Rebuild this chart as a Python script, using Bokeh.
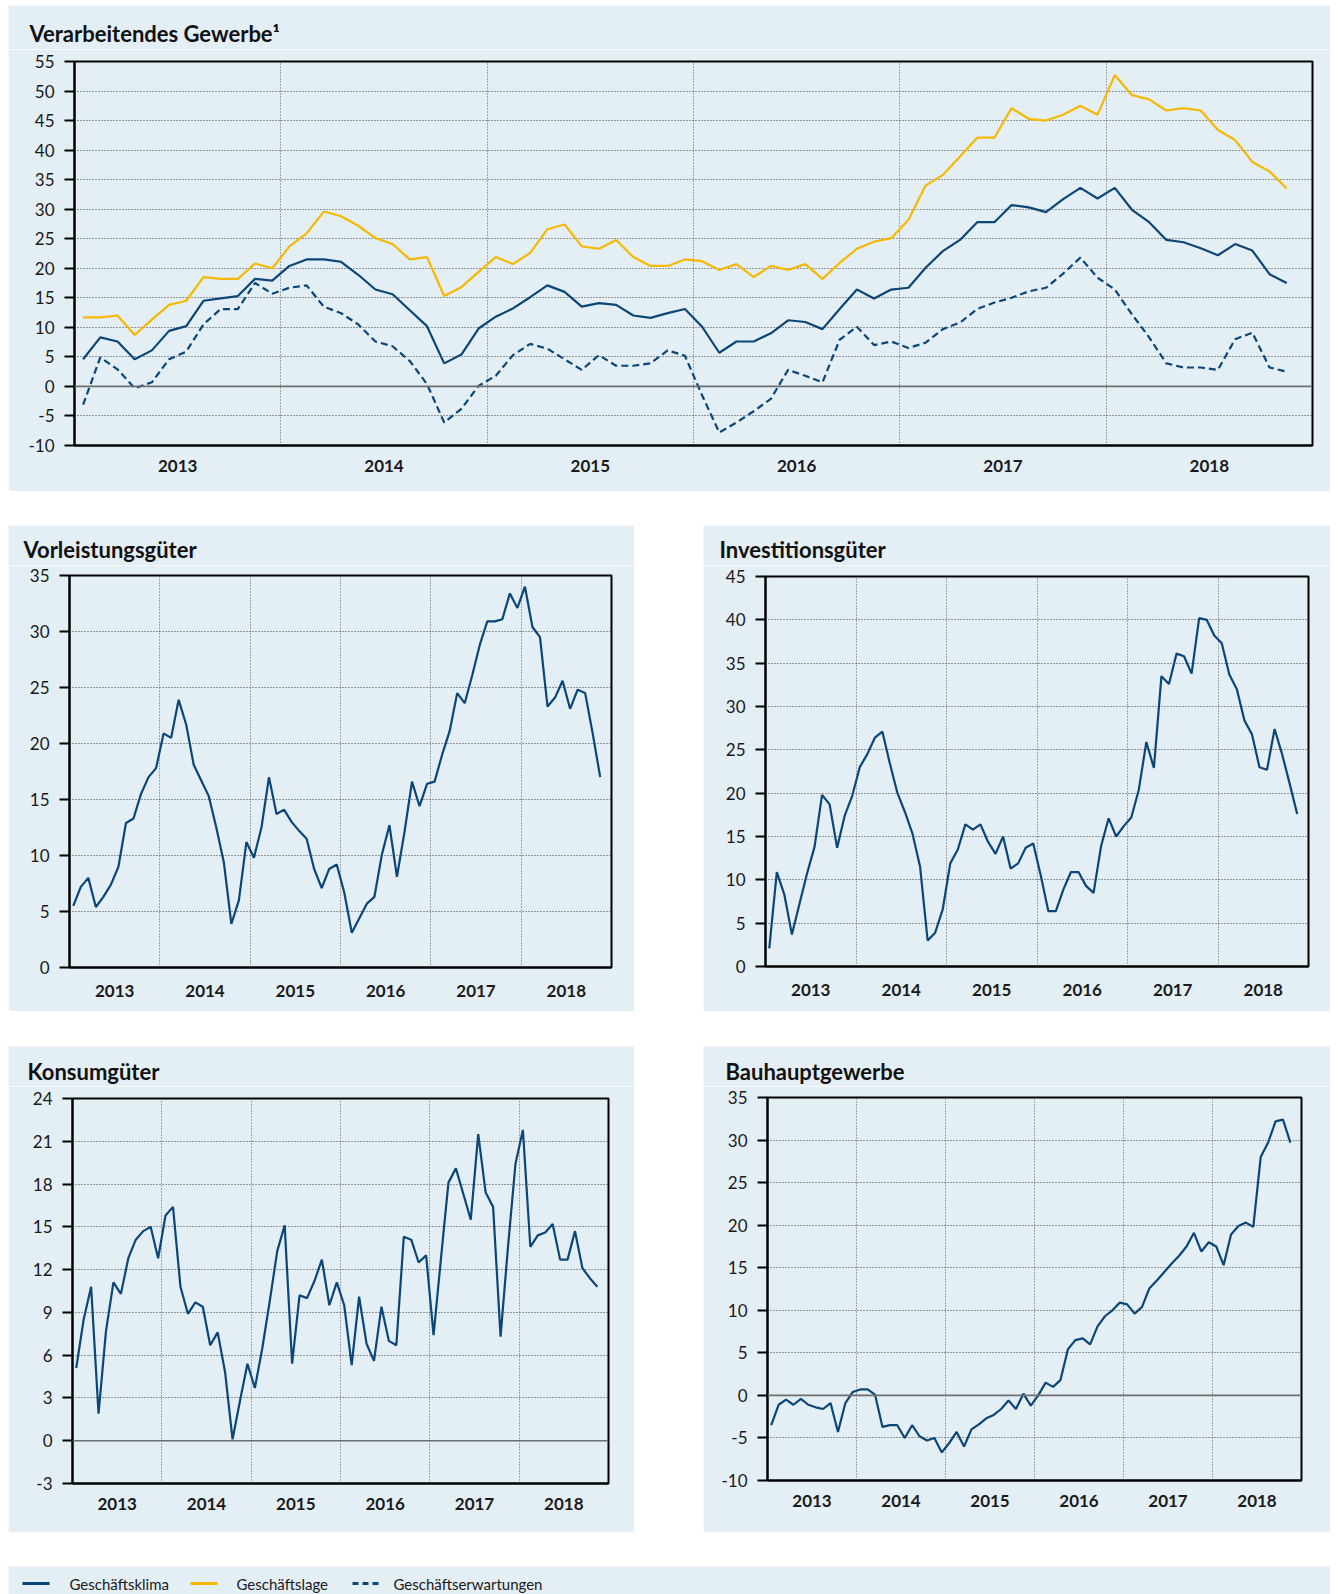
import numpy as np
import pandas as pd
from bokeh.plotting import figure
from bokeh.layouts import column, row
from bokeh.models import (Range1d, FixedTicker, CustomJSTickFormatter, Span,
                          Label, Spacer)
from bokeh.embed import file_html
from bokeh.resources import INLINE

# ---------------- data (monthly, Jan 2013 - Nov 2018) ----------------
years = [2013, 2014, 2015, 2016, 2017, 2018]
legend_labels = ["Geschäftsklima", "Geschäftslage", "Geschäftserwartungen"]
titles = ["Verarbeitendes Gewerbe\u00b9", "Vorleistungsgüter", "Investitionsgüter",
          "Konsumgüter", "Bauhauptgewerbe"]

vg_klima = [4.6, 8.3, 7.6, 4.6, 6.1, 9.4, 10.2, 14.5, 14.9, 15.3, 18.2, 17.9,
            20.4, 21.5, 21.5, 21.1, 18.9, 16.4, 15.6, 12.9, 10.2, 3.9, 5.4, 9.8,
            11.8, 13.2, 15.1, 17.1, 16.0, 13.5, 14.1, 13.8, 12.0, 11.6, 12.4, 13.1,
            10.1, 5.7, 7.6, 7.6, 9.0, 11.2, 10.9, 9.7, 13.1, 16.4, 14.9, 16.4,
            16.7, 20.1, 22.9, 24.8, 27.8, 27.8, 30.7, 30.3, 29.5, 31.7, 33.6, 31.8,
            33.6, 29.9, 27.8, 24.8, 24.4, 23.4, 22.2, 24.1, 23.0, 19.0, 17.5]
vg_lage = [11.7, 11.7, 12.0, 8.7, 11.3, 13.8, 14.5, 18.5, 18.2, 18.2, 20.8, 20.0,
           23.7, 25.9, 29.6, 28.8, 27.2, 25.1, 24.1, 21.5, 21.9, 15.3, 16.8, 19.4,
           21.9, 20.7, 22.6, 26.6, 27.4, 23.7, 23.3, 24.8, 21.9, 20.4, 20.4, 21.5,
           21.2, 19.7, 20.7, 18.5, 20.4, 19.7, 20.7, 18.2, 20.9, 23.3, 24.5, 25.1,
           28.2, 34.0, 35.8, 38.9, 42.1, 42.1, 47.1, 45.3, 45.0, 46.0, 47.5, 46.0,
           52.7, 49.3, 48.6, 46.7, 47.1, 46.7, 43.4, 41.7, 38.0, 36.4, 33.5]
vg_erw = [-3.1, 4.9, 2.9, -0.3, 0.7, 4.6, 5.9, 10.5, 13.1, 13.1, 17.5, 15.7,
          16.7, 17.1, 13.5, 12.4, 10.5, 7.6, 6.8, 4.3, 0.4, -6.1, -3.8, 0.1,
          1.8, 5.3, 7.2, 6.4, 4.6, 2.8, 5.3, 3.5, 3.5, 3.9, 6.1, 5.2,
          -1.5, -7.8, -6.1, -4.2, -2.1, 2.8, 1.8, 0.7, 7.9, 10.1, 7.0, 7.6,
          6.5, 7.4, 9.7, 10.8, 13.1, 14.2, 15.0, 16.1, 16.7, 19.1, 21.8, 18.4,
          16.4, 12.2, 8.3, 3.9, 3.2, 3.2, 2.8, 8.0, 9.1, 3.2, 2.5]
vorleistung = [5.5, 7.2, 8.0, 5.4, 6.3, 7.4, 9.0, 12.9, 13.3, 15.5, 17.0, 17.8,
               20.9, 20.5, 23.9, 21.7, 18.1, 16.7, 15.3, 12.5, 9.4, 3.9, 6.0, 11.2,
               9.8, 12.5, 17.0, 13.7, 14.1, 13.0, 12.2, 11.5, 8.8, 7.1, 8.8, 9.2,
               6.7, 3.1, 4.4, 5.7, 6.3, 10.1, 12.7, 8.1, 12.1, 16.6, 14.4, 16.4,
               16.6, 19.0, 21.1, 24.5, 23.6, 26.1, 28.8, 30.9, 30.9, 31.1, 33.4, 32.1,
               34.0, 30.4, 29.5, 23.3, 24.1, 25.6, 23.1, 24.8, 24.5, 20.9, 17.0]
investition = [2.1, 10.9, 8.3, 3.7, 7.2, 10.7, 13.8, 19.8, 18.7, 13.7, 17.4, 19.7,
               23.0, 24.5, 26.4, 27.1, 23.4, 20.0, 17.8, 15.3, 11.5, 3.0, 3.9, 6.6,
               11.9, 13.5, 16.4, 15.8, 16.4, 14.4, 13.0, 15.0, 11.3, 11.9, 13.7, 14.2,
               10.5, 6.4, 6.4, 8.9, 10.9, 10.9, 9.3, 8.5, 13.9, 17.1, 15.0, 16.2,
               17.2, 20.4, 25.9, 22.9, 33.5, 32.6, 36.1, 35.8, 33.8, 40.2, 40.0, 38.2,
               37.3, 33.7, 32.0, 28.4, 26.8, 23.0, 22.7, 27.4, 24.5, 21.1, 17.6]
konsum = [5.1, 8.5, 10.8, 1.9, 7.7, 11.1, 10.3, 12.8, 14.1, 14.7, 15.0, 12.8,
          15.8, 16.4, 10.8, 8.9, 9.7, 9.4, 6.7, 7.6, 4.8, 0.1, 2.8, 5.4,
          3.7, 6.5, 9.8, 13.3, 15.1, 5.4, 10.2, 10.0, 11.2, 12.7, 9.5, 11.1,
          9.5, 5.3, 10.1, 6.8, 5.6, 9.4, 7.0, 6.7, 14.3, 14.1, 12.5, 13.0,
          7.4, 12.8, 18.1, 19.1, 17.3, 15.5, 21.5, 17.4, 16.4, 7.3, 13.6, 19.4,
          21.8, 13.6, 14.4, 14.6, 15.2, 12.7, 12.7, 14.7, 12.1, 11.4, 10.8]
bau = [-3.5, -1.1, -0.5, -1.1, -0.4, -1.1, -1.4, -1.6, -0.9, -4.3, -0.9, 0.4,
       0.7, 0.7, 0.1, -3.7, -3.5, -3.5, -5.0, -3.5, -4.8, -5.3, -5.0, -6.7,
       -5.6, -4.3, -6.0, -4.0, -3.4, -2.7, -2.3, -1.6, -0.6, -1.6, 0.2, -1.2,
       0.0, 1.5, 1.0, 1.8, 5.4, 6.5, 6.7, 6.0, 8.1, 9.3, 10.0, 10.9,
       10.7, 9.6, 10.4, 12.6, 13.5, 14.5, 15.5, 16.4, 17.5, 19.1, 16.9, 18.0,
       17.5, 15.3, 18.9, 19.9, 20.3, 19.8, 28.0, 29.7, 32.2, 32.4, 29.7]

months = pd.date_range("2013-01-01", periods=len(vg_klima), freq="MS")
xm = (months.year + (months.month - 0.5) / 12.0).to_numpy()

# ---------------- styling ----------------
BG = "#e3eef5"
BLUE = "#0b4677"
YELLOW = "#f6b800"
FONT = "Lato"
LW = 2.2


def blank(width, height):
    s = figure(width=width, height=height, x_range=Range1d(0, width),
               y_range=Range1d(0, height), output_backend="svg",
               toolbar_location=None, min_border=0, min_border_left=0,
               min_border_right=0, min_border_top=0, min_border_bottom=0,
               background_fill_color=BG, border_fill_color=BG,
               outline_line_color=None, x_axis_location=None, y_axis_location=None)
    s.xgrid.visible = False
    s.ygrid.visible = False
    return s


def strip(width, height, text, tx, ty):
    s = blank(width, height)
    s.add_layout(Label(x=tx, y=ty, text=text, text_font=FONT, text_font_style="bold",
                       text_font_size="22px", text_color="#111111",
                       text_baseline="middle", text_align="left"))
    return s


def panel(width, height, borders, yrange, ystep, zero=True, xstand=14):
    bl, br, bt, bb = borders
    p = figure(width=width, height=height,
               x_range=Range1d(years[0], years[-1] + 1),
               y_range=Range1d(*yrange),
               output_backend="svg", toolbar_location=None,
               min_border_left=bl, min_border_right=br,
               min_border_top=bt, min_border_bottom=bb,
               background_fill_color=BG, border_fill_color=BG,
               outline_line_color="black", outline_line_width=2)
    yt = list(np.arange(yrange[0], yrange[1] + 0.001, ystep))
    ya = p.yaxis[0]
    ya.ticker = FixedTicker(ticks=yt)
    ya.formatter = CustomJSTickFormatter(code="return tick.toFixed(0);")
    ya.major_label_text_font = FONT
    ya.major_label_text_font_size = "17px"
    ya.major_label_text_color = "#1a1a1a"
    ya.major_tick_out = 10
    ya.major_tick_in = 0
    ya.major_tick_line_width = 2
    ya.major_tick_line_color = "black"
    ya.minor_tick_line_color = None
    ya.axis_line_width = 2
    ya.axis_line_color = "black"
    ya.major_label_standoff = 10
    xa = p.xaxis[0]
    xa.ticker = FixedTicker(ticks=[y + 0.5 for y in years])
    xa.formatter = CustomJSTickFormatter(code="return String(Math.floor(tick));")
    xa.major_label_text_font = FONT
    xa.major_label_text_font_style = "bold"
    xa.major_label_text_font_size = "17px"
    xa.major_label_text_color = "#1a1a1a"
    xa.major_tick_line_color = None
    xa.major_tick_out = 0
    xa.major_tick_in = 0
    xa.minor_tick_line_color = None
    xa.axis_line_width = 2
    xa.axis_line_color = "black"
    xa.major_label_standoff = xstand
    p.ygrid.ticker = FixedTicker(ticks=yt)
    p.ygrid.grid_line_color = "#3d3d3d"
    p.ygrid.grid_line_dash = "1 2"
    p.ygrid.grid_line_width = 1
    p.xgrid.ticker = FixedTicker(ticks=years[1:])
    p.xgrid.grid_line_color = "#5a5a5a"
    p.xgrid.grid_line_dash = "1 2"
    p.xgrid.grid_line_width = 1
    if zero:
        p.add_layout(Span(location=0, dimension="width", line_color="#6e6e6e",
                          line_width=1.6))
    return p


# top panel: Verarbeitendes Gewerbe
t0 = strip(1322, 44, titles[0], 21, 16)
top = panel(1322, 442, (66, 18, 12, 46), (-10, 55), 5)
top.line(xm, vg_erw, line_color=BLUE, line_width=LW, line_dash="7 4")
top.line(xm, vg_lage, line_color=YELLOW, line_width=LW)
top.line(xm, vg_klima, line_color=BLUE, line_width=LW)

t1 = strip(626, 40, titles[1], 15, 16)
p1 = panel(626, 446, (61, 23, 10, 44), (0, 35), 5, zero=False, xstand=17)
p1.line(xm, vorleistung, line_color=BLUE, line_width=LW)

t2 = strip(627, 40, titles[2], 16, 16)
p2 = panel(627, 446, (62, 22, 11, 45), (0, 45), 5, zero=False, xstand=17)
p2.line(xm, investition, line_color=BLUE, line_width=LW)

t3 = strip(626, 40, titles[3], 19, 15)
p3 = panel(626, 446, (64, 26, 12, 49), (-3, 24), 3)
p3.line(xm, konsum, line_color=BLUE, line_width=LW)

t4 = strip(627, 40, titles[4], 22, 15)
p4 = panel(627, 446, (64, 29, 11, 52), (-10, 35), 5)
p4.line(xm, bau, line_color=BLUE, line_width=LW)

# legend strip
leg = blank(1322, 28)
leg_x0 = [14, 182, 344]
leg_colors = [BLUE, YELLOW, BLUE]
leg_dash = ["solid", "solid", "6 4"]
for x0, c, d in zip(leg_x0, leg_colors, leg_dash):
    leg.segment(x0=[x0], y0=[11], x1=[x0 + 27], y1=[11], line_color=c,
                line_width=3, line_dash=d)
for x0, t in zip([61, 228, 385], legend_labels):
    leg.add_layout(Label(x=x0, y=11, text=t, text_font=FONT, text_font_size="15px",
                         text_color="#1a1a1a", text_baseline="middle"))


def block(t, p):
    return column(row(t), p)


body = column(Spacer(height=5), block(t0, top), Spacer(height=34),
              row(block(t1, p1), Spacer(width=69), block(t2, p2)),
              Spacer(height=35),
              row(block(t3, p3), Spacer(width=69), block(t4, p4)),
              Spacer(height=34),
              row(leg))
layout = row(Spacer(width=8), body)

open("out.html", "w").write(file_html(layout, INLINE))
